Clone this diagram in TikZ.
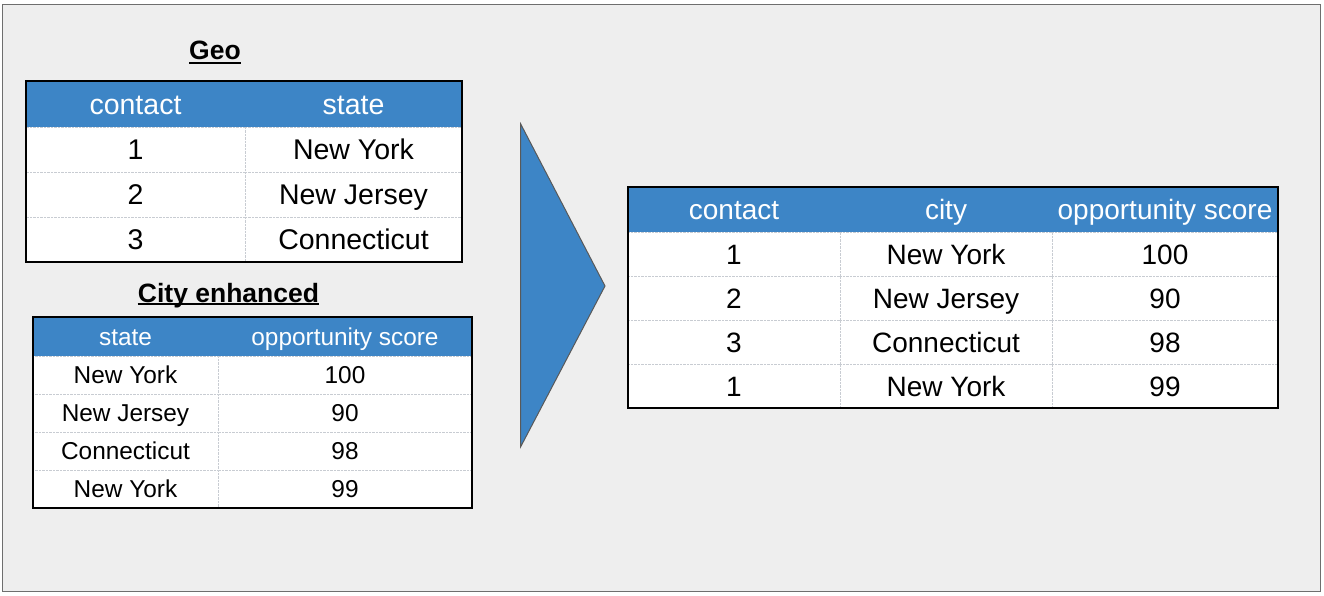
\documentclass[tikz,border=0pt]{standalone}
\usepackage{fontspec}
\setmainfont{Liberation Sans}
\usepackage{tikz}

\definecolor{headblue}{HTML}{3D85C6}
\definecolor{bggray}{HTML}{EEEEEE}
\definecolor{framegray}{HTML}{6E6E6E}
\definecolor{gridgray}{HTML}{C8CCD2}

\tikzset{
  geofont/.style={font=\fontsize{28.5}{28.5}\selectfont, text height=20.4pt, text depth=0pt},
  resfont/.style={font=\fontsize{28}{28}\selectfont, text height=20pt, text depth=0pt},
  smallfont/.style={font=\fontsize{24.4}{24.4}\selectfont, text height=17.5pt, text depth=0pt},
  head/.style={fill=headblue, text=white, inner sep=0pt},
  cell/.style={fill=white, draw=gridgray, densely dotted, inner sep=0pt},
  tableframe/.style={draw=black, line width=1.8pt},
  title/.style={font=\fontsize{26.5}{26.5}\selectfont\bfseries, inner sep=0pt, text height=19pt, text depth=0pt}
}

\begin{document}
\begin{tikzpicture}[x=1pt, y=-1pt]
\useasboundingbox (0,0) rectangle (1324,596);
\filldraw[fill=bggray, draw=framegray, line width=1.5pt] (2.5,4.5) rectangle (1320.5,591.5);

% Geo
\node[title] (geotitle) at (215,50.5) {Geo};
\draw[line width=1.4pt] ([yshift=-3pt]geotitle.base west) -- ([yshift=-3pt]geotitle.base east);
\node[head, geofont, minimum width=219pt, minimum height=46pt] (g11) at (135.5,104) {contact};
\node[head, geofont, minimum width=217pt, minimum height=46pt] (g12) at (353.5,104) {state};
\node[cell, geofont, minimum width=219pt, minimum height=45pt] (g21) at (135.5,149.5) {1};
\node[cell, geofont, minimum width=217pt, minimum height=45pt] (g22) at (353.5,149.5) {New York};
\node[cell, geofont, minimum width=219pt, minimum height=45pt] (g31) at (135.5,194.5) {2};
\node[cell, geofont, minimum width=217pt, minimum height=45pt] (g32) at (353.5,194.5) {New Jersey};
\node[cell, geofont, minimum width=219pt, minimum height=45pt] (g41) at (135.5,239.5) {3};
\node[cell, geofont, minimum width=217pt, minimum height=45pt] (g42) at (353.5,239.5) {Connecticut};
\draw[tableframe] (g11.north west) rectangle (g42.south east);

% City enhanced
\node[title] (citytitle) at (228.5,292.5) {City enhanced};
\draw[line width=1.4pt] ([yshift=-2pt]citytitle.base west) -- ([yshift=-2pt]citytitle.base east);
\node[head, smallfont, minimum width=185pt, minimum height=39pt] (c11) at (125.5,336.5) {state};
\node[head, smallfont, minimum width=254pt, minimum height=39pt] (c12) at (345,336.5) {opportunity score};
\node[cell, smallfont, minimum width=185pt, minimum height=38pt] (c21) at (125.5,375) {New York};
\node[cell, smallfont, minimum width=254pt, minimum height=38pt] (c22) at (345,375) {100};
\node[cell, smallfont, minimum width=185pt, minimum height=38pt] (c31) at (125.5,413) {New Jersey};
\node[cell, smallfont, minimum width=254pt, minimum height=38pt] (c32) at (345,413) {90};
\node[cell, smallfont, minimum width=185pt, minimum height=38pt] (c41) at (125.5,451) {Connecticut};
\node[cell, smallfont, minimum width=254pt, minimum height=38pt] (c42) at (345,451) {98};
\node[cell, smallfont, minimum width=185pt, minimum height=38pt] (c51) at (125.5,489) {New York};
\node[cell, smallfont, minimum width=254pt, minimum height=38pt] (c52) at (345,489) {99};
\draw[tableframe] (c11.north west) rectangle (c52.south east);

% Arrow
\filldraw[fill=headblue, draw=gray!70!black, line width=1pt] (520.7,124) -- (605,286) -- (520.7,446.7) -- cycle;

% Result
\node[head, resfont, minimum width=212pt, minimum height=45pt] (r11) at (734,209.5) {contact};
\node[head, resfont, minimum width=212pt, minimum height=45pt] (r12) at (946,209.5) {city};
\node[head, resfont, minimum width=226pt, minimum height=45pt] (r13) at (1165,209.5) {opportunity score};
\node[cell, resfont, minimum width=212pt, minimum height=44pt] (r21) at (734,254) {1};
\node[cell, resfont, minimum width=212pt, minimum height=44pt] (r22) at (946,254) {New York};
\node[cell, resfont, minimum width=226pt, minimum height=44pt] (r23) at (1165,254) {100};
\node[cell, resfont, minimum width=212pt, minimum height=44pt] (r31) at (734,298) {2};
\node[cell, resfont, minimum width=212pt, minimum height=44pt] (r32) at (946,298) {New Jersey};
\node[cell, resfont, minimum width=226pt, minimum height=44pt] (r33) at (1165,298) {90};
\node[cell, resfont, minimum width=212pt, minimum height=44pt] (r41) at (734,342) {3};
\node[cell, resfont, minimum width=212pt, minimum height=44pt] (r42) at (946,342) {Connecticut};
\node[cell, resfont, minimum width=226pt, minimum height=44pt] (r43) at (1165,342) {98};
\node[cell, resfont, minimum width=212pt, minimum height=44pt] (r51) at (734,386) {1};
\node[cell, resfont, minimum width=212pt, minimum height=44pt] (r52) at (946,386) {New York};
\node[cell, resfont, minimum width=226pt, minimum height=44pt] (r53) at (1165,386) {99};
\draw[tableframe] (r11.north west) rectangle (r53.south east);

\end{tikzpicture}
\end{document}
